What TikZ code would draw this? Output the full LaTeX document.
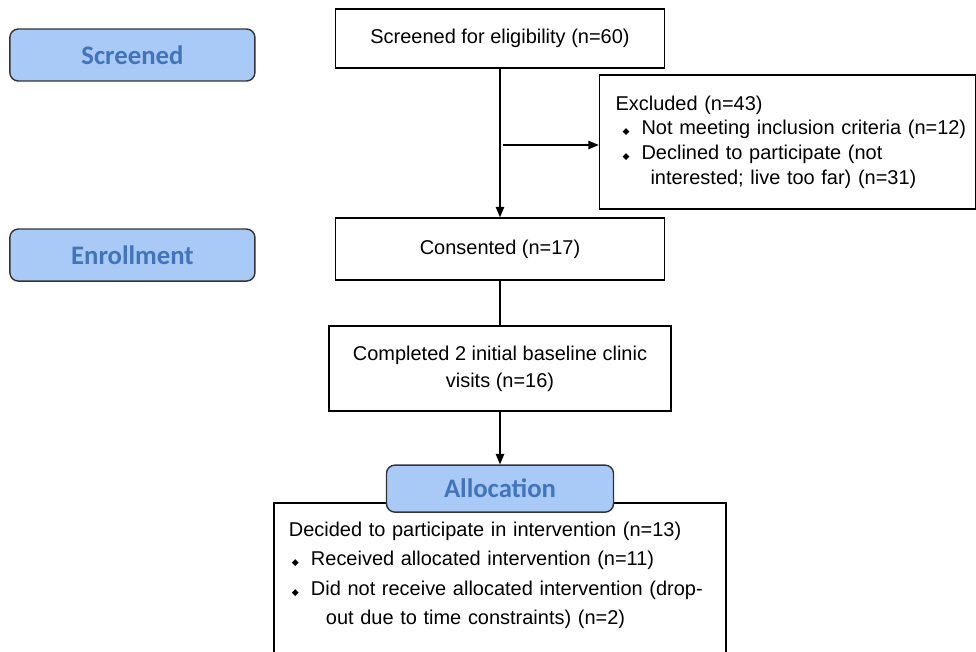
\documentclass[tikz,border=0pt]{standalone}
\usepackage{fontspec}
\setmainfont{Liberation Sans}
\newfontfamily\lblfont{Carlito}
\newfontfamily\symfont{DejaVu Sans}
\usetikzlibrary{positioning, arrows.meta}
\definecolor{lblfill}{HTML}{A9C9F7}
\definecolor{lbltext}{HTML}{4274BA}
\newcommand{\bul}{{\symfont\fontsize{6.5pt}{6.5pt}\selectfont ◆}\hspace{0.3cm}}

\begin{document}
\begin{tikzpicture}[
    x=0.025cm, y=0.025cm,
    >={Triangle[length=7.5pt,width=6pt]},
    on grid,
    line width=1pt,
    % Stile per i riquadri
    box/.style={rectangle, draw, fill=white, align=center,
        font=\fontsize{14.2pt}{17.5pt}\selectfont},
    % Stile per le etichette blu
    phase/.style={rectangle, draw=black!80, rounded corners=6pt, fill=lblfill,
        minimum width=6.125cm, minimum height=1.3cm,
        font=\lblfont\bfseries\fontsize{19pt}{21pt}\selectfont, text=lbltext}
]

    \useasboundingbox (0,0) rectangle (976,652);

    % Nodi principali
    \node[box, minimum width=8.225cm, minimum height=1.475cm] (screen) at (500,613.5)
        {Screened for eligibility (n=60)};
    \node[box, minimum width=8.225cm, minimum height=1.55cm] (cons) [below=5.2625cm of screen]
        {Consented (n=17)};
    \node[box, minimum width=8.55cm, minimum height=2.125cm,
        font=\fontsize{14.2pt}{19pt}\selectfont] (comp) [below=2.9875cm of cons]
        {Completed 2 initial baseline clinic\\visits (n=16)};
    \node[box, align=left, text width=9cm, inner xsep=0.2cm,
        minimum height=3.35cm] (excl) [below right=2.5875cm and 7.1875cm of screen]
        {\hspace*{0.2cm}Excluded (n=43)\\
         \hspace*{0.375cm}\bul Not meeting inclusion criteria (n=12)\\
         \hspace*{0.375cm}\bul Declined to participate (not\\
         \hspace*{1.075cm}interested; live too far) (n=31)};
    \node[box, align=left, text width=10.55cm, inner xsep=0.375cm,
        minimum height=4.25cm, font=\fontsize{14.2pt}{21pt}\selectfont] (dec)
        [below=5.4875cm of comp]
        {Decided to participate in intervention (n=13)\\
         \hspace*{0.075cm}\bul Received allocated intervention (n=11)\\
         \hspace*{0.075cm}\bul Did not receive allocated intervention (drop-\\
         \hspace*{0.925cm}out due to time constraints) (n=2)\\
         \mbox{}};

    % Etichette delle fasi
    \node[phase] (scr) [below left=0.4125cm and 9.1875cm of screen] {Screened};
    \node[phase] (enr) [below left=0.15cm and 9.1875cm of cons] {Enrollment};
    \node[phase, minimum width=5.675cm, minimum height=1.175cm] (alloc)
        [below=3cm of comp] {Allocation};

    % Connessioni
    \coordinate (tap) at (503,507);
    \draw[->] (screen) -- (cons);
    \draw[->] (tap) -- (tap -| excl.west);
    \draw (cons) -- (comp);
    \draw[->] (comp) -- (alloc);

\end{tikzpicture}
\end{document}
